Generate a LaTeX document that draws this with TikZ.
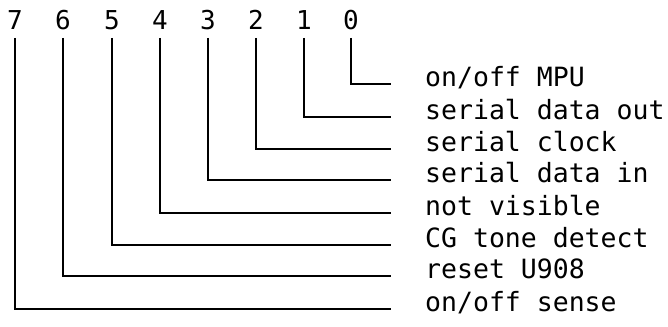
\documentclass[tikz,border=0pt]{standalone}
\usepackage{fontspec}
\setmonofont{DejaVu Sans Mono}
\begin{document}
\begin{tikzpicture}[x=1pt,y=1pt,
  wire/.style={line width=1.7pt, line cap=butt, line join=miter},
  bitlabel/.style={font=\ttfamily\fontsize{26}{28}\selectfont, inner sep=0pt, anchor=base},
  siglabel/.style={font=\ttfamily\fontsize{26.5}{28}\selectfont, inner sep=0pt, anchor=mid west}]
\useasboundingbox (0,0) rectangle (668,326);
% bit numbers (x positions of wires)
\foreach \b/\x in {7/15,6/63,5/112,4/160,3/208,2/256,1/304,0/351}{
  \node[bitlabel] (n\b) at (\x,296) {\b};
  \coordinate (t\b) at (\x,288);
}
% signal labels and row coordinates
\foreach \b/\y/\t in {0/84/on\slash off MPU,1/117/serial data out,2/149/serial clock,3/180/serial data in,4/213/not visible,5/245/CG tone detect,6/276/reset U908,7/309/on\slash off sense}{
  \coordinate (e\b) at (391,326-\y);
  \node[siglabel] (s\b) at (425,326-\y) {\t};
}
\foreach \b in {0,...,7}{
  \draw[wire] (t\b) |- (e\b);
}
\end{tikzpicture}
\end{document}
